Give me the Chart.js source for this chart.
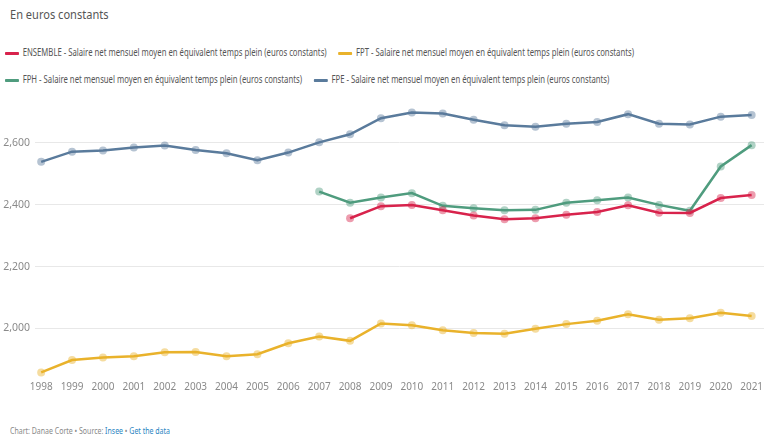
<!DOCTYPE html>
<html>
<head>
<meta charset="utf-8">
<script src="https://cdn.jsdelivr.net/npm/chart.js@4/dist/chart.umd.min.js"></script>
<style>
  body { margin: 0; background: #fff; font-family: 'Noto Sans', 'Liberation Sans', sans-serif; font-stretch: condensed; }
  #title { position: absolute; left: 10px; top: 5px; font-size: 13px; color: #555; transform-origin: left center; }
  #legend { position: absolute; left: 5px; top: 44px; font-size: 10.5px; color: #555; }
  #legend .row { height: 27px; line-height: 16px; white-space: nowrap; transform-origin: left center; }
  #legend .item { display: inline-block; margin-right: 16px; }
  #legend .mark { display: inline-block; height: 3px; vertical-align: middle; margin-right: 5px; border-radius: 1px; }
  #wrap { position: absolute; left: 0; top: 88px; width: 774px; height: 310px; }
  #footer { position: absolute; left: 10px; top: 424px; font-size: 9.5px; color: #888; white-space: nowrap; transform-origin: left center; }
  #footer span { color: #2a85c2; }
</style>
</head>
<body>
<div id="title">En euros constants</div>
<div id="legend"></div>
<div id="wrap"><canvas id="myChart"></canvas></div>
<div id="footer">Chart: Danae Corte • Source: <span>Insee</span> • <span>Get the data</span></div>
<script>
const years = [1998,1999,2000,2001,2002,2003,2004,2005,2006,2007,2008,2009,2010,2011,2012,2013,2014,2015,2016,2017,2018,2019,2020,2021];

// null = pas de donnée
const ensemble = [null,null,null,null,null,null,null,null,null,null,2356,2395,2399,2382,2365,2353,2356,2367,2376,2398,2374,2373,2421,2431];
const fpt = [1858,1898,1906,1910,1923,1924,1910,1917,1952,1974,1960,2016,2010,1994,1985,1983,1999,2014,2025,2046,2028,2033,2051,2040];
const fph = [null,null,null,null,null,null,null,null,null,2442,2406,2423,2437,2396,2388,2382,2383,2406,2414,2423,2399,2380,2523,2592];
const fpe = [2538,2571,2575,2584,2591,2576,2566,2543,2568,2601,2627,2679,2697,2694,2674,2656,2651,2661,2667,2692,2661,2659,2684,2689];

const yTicks = [2000, 2200, 2400, 2600];
const suffix = ' - Salaire net mensuel moyen en équivalent temps plein (euros constants)';

const toPoints = (arr) => years.map((y, i) => ({x: y, y: arr[i]})).filter(p => p.y !== null);

const makeSet = (name, arr, color, fill) => ({
  label: name + suffix,
  data: toPoints(arr),
  borderColor: color,
  backgroundColor: color,
  borderWidth: 2.5,
  pointRadius: 4,
  pointBorderWidth: 0,
  pointBackgroundColor: fill,
  tension: 0
});

const datasets = [
  makeSet('ENSEMBLE', ensemble, '#d8234c', 'rgba(216,35,76,0.45)'),
  makeSet('FPT', fpt, '#e9b22b', 'rgba(233,178,43,0.45)'),
  makeSet('FPH', fph, '#4f9c7e', 'rgba(79,156,126,0.45)'),
  makeSet('FPE', fpe, '#5a7b9c', 'rgba(90,123,156,0.45)')
];

const fontFam = "'Noto Sans', 'Liberation Sans', sans-serif";

const ctx = document.getElementById('myChart').getContext('2d');
const chart = new Chart(ctx, {
  type: 'line',
  data: { datasets: datasets },
  options: {
    responsive: true,
    maintainAspectRatio: false,
    animation: false,
    layout: { padding: { top: 6, right: 10, bottom: 2, left: 0 } },
    plugins: {
      legend: { display: false },
      tooltip: { enabled: false }
    },
    scales: {
      x: {
        type: 'linear',
        min: 1997.8,
        max: 2021.4,
        grid: { display: false, drawTicks: false },
        border: { display: false },
        ticks: {
          stepSize: 1,
          includeBounds: false,
          autoSkip: false,
          maxRotation: 0,
          padding: 3,
          color: '#8a8a8a',
          font: { family: fontFam, size: 10, style: 'condensed' },
          callback: (v) => String(v)
        }
      },
      y: {
        min: 1840,
        max: 2740,
        afterBuildTicks: (axis) => { axis.ticks = yTicks.map(v => ({value: v})); },
        afterFit: (axis) => { axis.width = 35; },
        grid: { color: '#e8e8e8', lineWidth: 1, drawTicks: false },
        border: { display: false },
        ticks: {
          padding: 5,
          color: '#8a8a8a',
          font: { family: fontFam, size: 10.5, style: 'condensed' }
        }
      }
    }
  }
});

// légende HTML construite à partir des séries, deux par ligne
const legend = document.getElementById('legend');
let row;
chart.data.datasets.forEach((ds, i) => {
  if (i % 2 === 0) {
    row = document.createElement('div');
    row.className = 'row';
    legend.appendChild(row);
  }
  const item = document.createElement('span');
  item.className = 'item';
  item.innerHTML = '<span class="mark" style="background:' + ds.borderColor + '"></span><span class="txt">' + ds.label + '</span>';
  row.appendChild(item);
});

// police étroite : on resserre si la police installée est trop large
const firstTxt = legend.querySelector('.txt');
const s = Math.min(1, 304 / firstTxt.getBoundingClientRect().width);
legend.querySelectorAll('.row').forEach(r => { r.style.transform = 'scaleX(' + s + ')'; });
legend.querySelectorAll('.mark').forEach(m => { m.style.width = (14 / s) + 'px'; });
document.getElementById('footer').style.transform = 'scaleX(' + s + ')';
document.getElementById('title').style.transform = 'scaleX(' + Math.max(s, 0.85) + ')';
</script>
</body>
</html>
